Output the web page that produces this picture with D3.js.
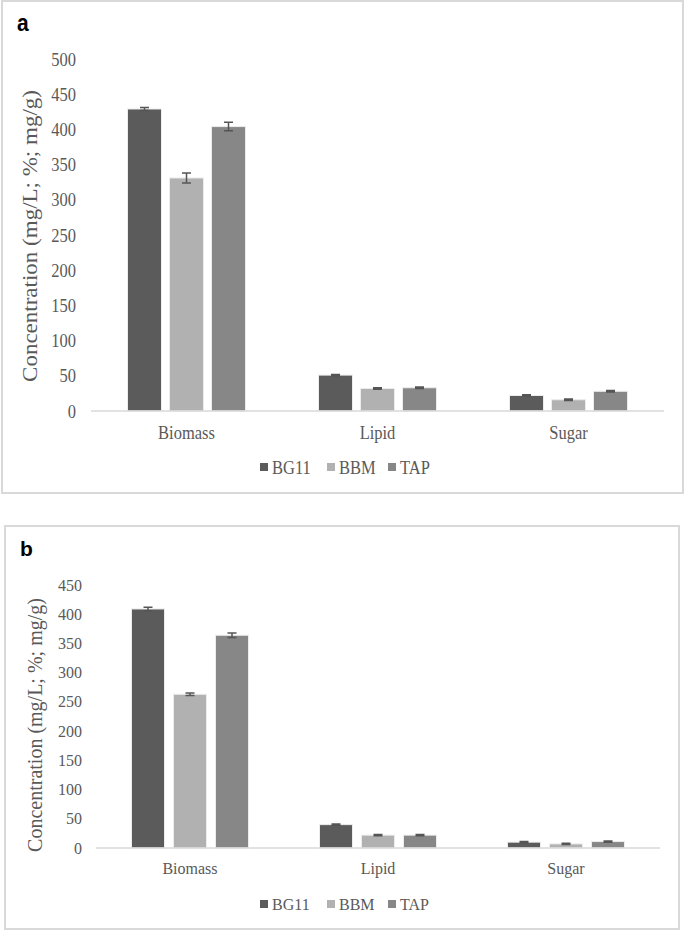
<!DOCTYPE html>
<html>
<head>
<meta charset="utf-8">
<script src="https://cdn.jsdelivr.net/npm/d3@7"></script>
<style>
  body { margin: 0; background: #fff; }
</style>
</head>
<body>
<div id="chart"></div>
<script>
// categories and media
var categories = ["Biomass", "Lipid", "Sugar"]
var media = ["BG11", "BBM", "TAP"]

// panel a values (mean and error)
var valuesA = {
    BG11: [429, 51, 22],
    BBM: [331, 32, 16],
    TAP: [404, 33, 28]
}
var errorsA = {
    BG11: [2, 1, 1],
    BBM: [7, 1, 1],
    TAP: [6, 1, 1]
}
var ticksA = [0, 50, 100, 150, 200, 250, 300, 350, 400, 450, 500]

// panel b values
var valuesB = {
    BG11: [409, 40, 10],
    BBM: [263, 22, 7],
    TAP: [364, 22, 11]
}
var errorsB = {
    BG11: [3, 1, 1],
    BBM: [2, 1, 1],
    TAP: [4, 1, 1]
}
var ticksB = [0, 50, 100, 150, 200, 250, 300, 350, 400, 450]

var serif = "'Liberation Serif', 'Times New Roman', 'DejaVu Serif', serif"
var textColor = "#595959"

var myColor = d3.scaleOrdinal()
    .domain(media)
    .range(["#5b5b5b", "#b1b1b1", "#878787"])

var svg = d3.select("#chart")
    .append("svg")
    .attr("width", 685)
    .attr("height", 930)

function drawPanel(opts) {
    var g = svg.append("g")
    var sy = opts.stretch
    // place a text at x,y with the panel's vertical stretch
    function at(px, py) {
        return "translate(" + px + "," + py + ") scale(1," + sy + ")"
    }

    // frame
    g.append("rect")
        .attr("x", opts.box[0]).attr("y", opts.box[1])
        .attr("width", opts.box[2]).attr("height", opts.box[3])
        .attr("fill", "none")
        .attr("stroke", "#d9d9d9")
        .attr("stroke-width", 2)

    // panel letter
    g.append("text")
        .attr("transform", at(opts.box[0] + 15, opts.box[1] + 30))
        .style("font-family", "'Liberation Sans', Arial, sans-serif")
        .style("font-weight", "bold")
        .style("font-size", "21px")
        .style("fill", "#000")
        .text(opts.letter)

    var x = d3.scaleBand()
        .domain(categories)
        .range([opts.left, opts.right])
    var inner = 3 * opts.barW + 2 * opts.gap
    var x1 = d3.scaleBand()
        .domain(media)
        .range([0, inner])
        .paddingInner(opts.gap / (opts.barW + opts.gap))

    var y = d3.scaleLinear()
        .domain([0, opts.ticks[opts.ticks.length - 1]])
        .range([opts.bottom, opts.top])

    // y tick labels
    g.selectAll(".ytick")
        .data(opts.ticks)
        .enter()
        .append("text")
        .attr("transform", function (d) { return at(opts.labelX, y(d)) })
        .attr("dy", "0.35em")
        .style("text-anchor", "end")
        .style("font-family", serif)
        .style("font-size", opts.fs + "px")
        .style("fill", textColor)
        .text(function (d) { return d })

    // bars
    media.forEach(function (m) {
        var grp = g.append("g")
        grp.selectAll("rect")
            .data(categories)
            .enter()
            .append("rect")
            .attr("x", function (d) { return x(d) + (x.bandwidth() - inner) / 2 + x1(m) })
            .attr("y", function (d, i) { return y(opts.values[m][i]) })
            .attr("width", x1.bandwidth())
            .attr("height", function (d, i) { return opts.bottom - y(opts.values[m][i]) })
            .attr("fill", myColor(m))
            .attr("stroke", "#ececec")
            .attr("stroke-width", 1)

        // error bars
        grp.selectAll(".err")
            .data(categories)
            .enter()
            .append("path")
            .attr("d", function (d, i) {
                var cx = x(d) + (x.bandwidth() - inner) / 2 + x1(m) + x1.bandwidth() / 2
                var v = opts.values[m][i], e = opts.errors[m][i]
                var y0 = y(v - e), y1 = y(v + e)
                return "M" + (cx - 4.5) + "," + y1 + "H" + (cx + 4.5) +
                    "M" + cx + "," + y1 + "V" + y0 +
                    "M" + (cx - 4.5) + "," + y0 + "H" + (cx + 4.5)
            })
            .attr("stroke", "#555")
            .attr("stroke-width", 1.5)
            .attr("fill", "none")
    })

    // baseline
    g.append("line")
        .attr("x1", opts.left).attr("x2", opts.right)
        .attr("y1", opts.bottom).attr("y2", opts.bottom)
        .attr("stroke", "#d9d9d9")
        .attr("stroke-width", 1.5)

    // category labels
    g.selectAll(".xlab")
        .data(categories)
        .enter()
        .append("text")
        .attr("transform", function (d) { return at(x(d) + x.bandwidth() / 2, opts.catY) })
        .attr("dy", "0.35em")
        .style("text-anchor", "middle")
        .style("font-family", serif)
        .style("font-size", opts.fs + "px")
        .style("fill", textColor)
        .text(function (d) { return d })

    // y title
    g.append("text")
        .attr("transform", at(opts.titleX, opts.titleY) + " rotate(-90)")
        .style("text-anchor", "middle")
        .style("font-family", serif)
        .style("font-size", "20px")
        .style("fill", textColor)
        .text("Concentration (mg/L; %; mg/g)")

    // legend
    var legX = [260, 327, 388]
    var leg = g.selectAll(".leg")
        .data(media)
        .enter()
        .append("g")
        .attr("transform", function (d, i) { return "translate(" + legX[i] + "," + opts.legendY + ")" })
    leg.append("rect")
        .attr("x", 0).attr("y", -4)
        .attr("width", 8).attr("height", 8)
        .attr("fill", function (d) { return myColor(d) })
    leg.append("text")
        .attr("transform", at(12, 0))
        .attr("dy", "0.35em")
        .style("font-family", serif)
        .style("font-size", opts.fs + "px")
        .style("fill", textColor)
        .text(function (d) { return d })
}

drawPanel({
    letter: "a", box: [2, 1, 681, 492], stretch: 1.15, fs: 16.5,
    left: 91, right: 664, top: 59, bottom: 411, labelX: 76,
    barW: 34, gap: 8, catY: 432, titleX: 37, titleY: 236,
    ticks: ticksA, values: valuesA, errors: errorsA, legendY: 467
})

drawPanel({
    letter: "b", box: [5, 526, 674, 403], stretch: 1, fs: 16,
    left: 96, right: 660, top: 585, bottom: 848, labelX: 82,
    barW: 33, gap: 9, catY: 868, titleX: 42, titleY: 725,
    ticks: ticksB, values: valuesB, errors: errorsB, legendY: 904
})
</script>
</body>
</html>
